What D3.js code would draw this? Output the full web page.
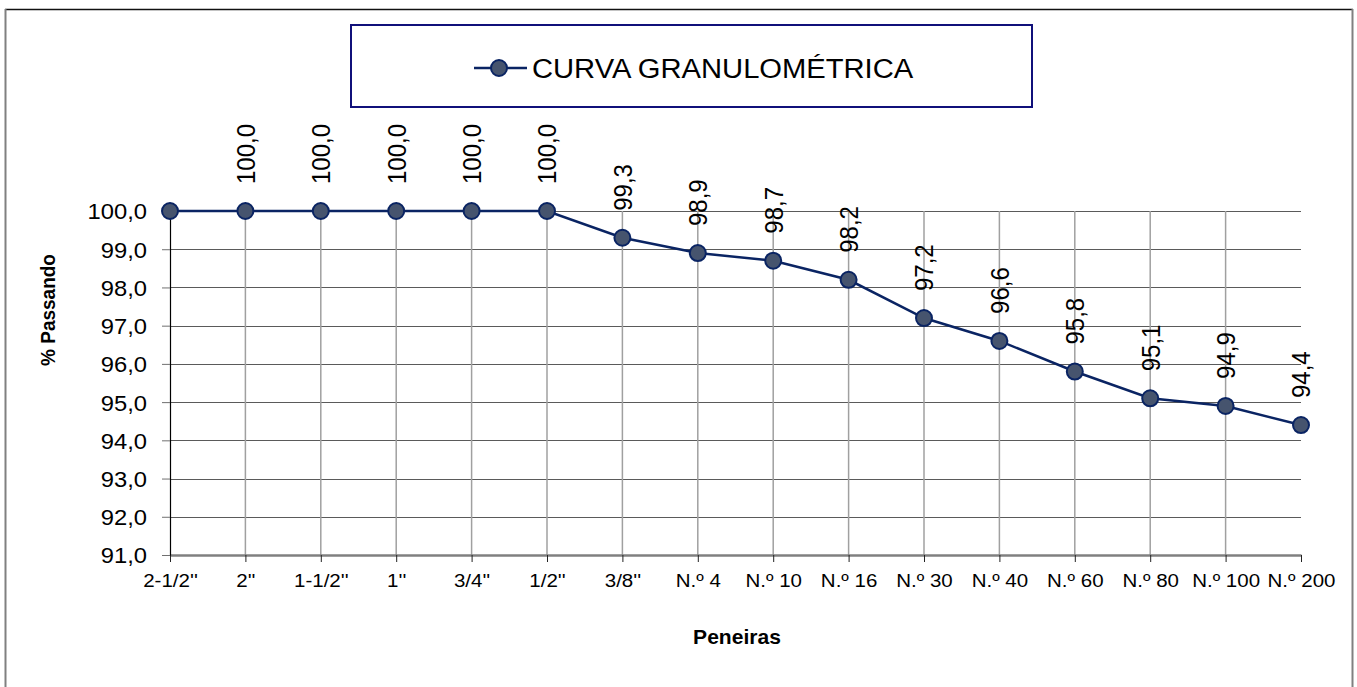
<!DOCTYPE html>
<html>
<head>
<meta charset="utf-8">
<script src="https://cdn.jsdelivr.net/npm/d3@7/dist/d3.min.js"></script>
<style>
  body { margin: 0; background: #fff; }
  text { font-family: "Liberation Sans", Arial, sans-serif; fill: #000; }
</style>
</head>
<body>
<div id="chart"></div>
<script>
// peneiras (categorias do eixo x)
var sieves = ["2-1/2''", "2''", "1-1/2''", "1''", "3/4''", "1/2''", "3/8''",
  "N.º 4", "N.º 10", "N.º 16", "N.º 30", "N.º 40", "N.º 60", "N.º 80", "N.º 100", "N.º 200"];
// % passando
var passing = [100.0, 100.0, 100.0, 100.0, 100.0, 100.0, 99.3, 98.9, 98.7, 98.2, 97.2, 96.6, 95.8, 95.1, 94.9, 94.4];
var yTicks = [91, 92, 93, 94, 95, 96, 97, 98, 99, 100];
var seriesName = 'CURVA GRANULOMÉTRICA';

var w = 1357;
var h = 687;
var sx = 1.08; // a imagem original esta um pouco esticada na horizontal
var navy = '#0a2463';
var markerFill = '#46546e';

var fmt = d3.formatLocale({ decimal: ',', thousands: '.', grouping: [3], currency: ['', ''] }).format('.1f');

var svg = d3.select('#chart').append('svg').attr('width', w).attr('height', h);

// borda da area do grafico
svg.append('line').attr('x1', 5).attr('x2', 1353).attr('y1', 9.5).attr('y2', 9.5)
  .attr('stroke', '#111').attr('stroke-width', 1.5);
svg.append('line').attr('x1', 5.5).attr('x2', 5.5).attr('y1', 9).attr('y2', h)
  .attr('stroke', '#808080').attr('stroke-width', 2);
svg.append('line').attr('x1', 1352.5).attr('x2', 1352.5).attr('y1', 9).attr('y2', h)
  .attr('stroke', '#808080').attr('stroke-width', 2);

var xScale = d3.scalePoint().domain(sieves).range([170, 1301]);
var yScale = d3.scaleLinear().domain([91, 100]).range([555, 211]);

// grades
svg.append('g').selectAll('line').data(yTicks.slice(1)).enter().append('line')
  .attr('x1', 170).attr('x2', 1301)
  .attr('y1', function(d) { return Math.round(yScale(d)) + 0.5; })
  .attr('y2', function(d) { return Math.round(yScale(d)) + 0.5; })
  .attr('stroke', '#5a5a5a').attr('stroke-width', 1);

svg.append('g').selectAll('line').data(sieves.slice(1, sieves.length - 1)).enter().append('line')
  .attr('x1', function(d) { return xScale(d); })
  .attr('x2', function(d) { return xScale(d); })
  .attr('y1', 211).attr('y2', 555)
  .attr('stroke', '#a0a0a0').attr('stroke-width', 1.5);

// eixo x
var xAxis = d3.axisBottom(xScale).tickSize(7).tickSizeOuter(0);
var gx = svg.append('g').attr('transform', 'translate(0,555)').call(xAxis);
gx.select('.domain').attr('stroke', '#808080').attr('stroke-width', 2.5);
gx.selectAll('.tick line').attr('stroke', '#222');
gx.selectAll('.tick text')
  .attr('y', 0).attr('dy', 0)
  .attr('font-size', 19)
  .attr('transform', 'translate(0,32) scale(' + sx + ',1)')
  .attr('font-family', '"Liberation Sans", Arial, sans-serif');

// eixo y
var yAxis = d3.axisLeft(yScale).tickValues(yTicks).tickSize(8).tickSizeOuter(0).tickFormat(fmt);
var gy = svg.append('g').attr('transform', 'translate(170,0)').call(yAxis);
gy.select('.domain').attr('stroke', '#000').attr('stroke-width', 1.2);
gy.selectAll('.tick line').attr('stroke', '#707070');
gy.selectAll('.tick text')
  .attr('x', -23 / sx).attr('dy', '0.36em')
  .attr('font-size', 22)
  .attr('transform', 'scale(' + sx + ',1)')
  .attr('font-family', '"Liberation Sans", Arial, sans-serif');

// titulos dos eixos
svg.append('text')
  .attr('transform', 'translate(55,310) scale(' + sx + ',1) rotate(-90)')
  .attr('text-anchor', 'middle')
  .attr('font-weight', 'bold')
  .attr('font-size', 19)
  .text('% Passando');

svg.append('text')
  .attr('transform', 'translate(737,644) scale(' + sx + ',1)')
  .attr('text-anchor', 'middle')
  .attr('font-weight', 'bold')
  .attr('font-size', 19.5)
  .text('Peneiras');

// serie
var line = d3.line()
  .x(function(d, i) { return xScale(sieves[i]); })
  .y(function(d) { return yScale(d); });

svg.append('path').datum(passing)
  .attr('d', line)
  .attr('fill', 'none')
  .attr('stroke', navy)
  .attr('stroke-width', 2.5);

svg.append('g').selectAll('circle').data(passing).enter().append('circle')
  .attr('cx', function(d, i) { return xScale(sieves[i]); })
  .attr('cy', function(d) { return yScale(d); })
  .attr('r', 8)
  .attr('fill', markerFill)
  .attr('stroke', navy)
  .attr('stroke-width', 2);

// rotulos de dados (o primeiro ponto nao tem rotulo no original)
svg.append('g').selectAll('text').data(passing).enter()
  .filter(function(d, i) { return i > 0; })
  .append('text')
  .attr('transform', function(d, i) {
    return 'translate(' + xScale(sieves[i + 1]) + ',' + (yScale(d) - 27) + ') scale(' + sx + ',1) rotate(-90)';
  })
  .attr('dy', '0.36em')
  .attr('font-size', 24)
  .text(function(d) { return fmt(d); });

// legenda
var leg = svg.append('g');
leg.append('rect')
  .attr('x', 351).attr('y', 25).attr('width', 681).attr('height', 82)
  .attr('fill', '#fff').attr('stroke', '#10107a').attr('stroke-width', 2);
leg.append('line').attr('x1', 474).attr('x2', 527).attr('y1', 68).attr('y2', 68)
  .attr('stroke', navy).attr('stroke-width', 2.5);
leg.append('circle').attr('cx', 499).attr('cy', 68).attr('r', 8)
  .attr('fill', markerFill).attr('stroke', navy).attr('stroke-width', 2);
leg.append('text')
  .attr('transform', 'translate(532,68) scale(' + sx + ',1)')
  .attr('dy', '0.36em')
  .attr('font-size', 27)
  .text(seriesName);
</script>
</body>
</html>
